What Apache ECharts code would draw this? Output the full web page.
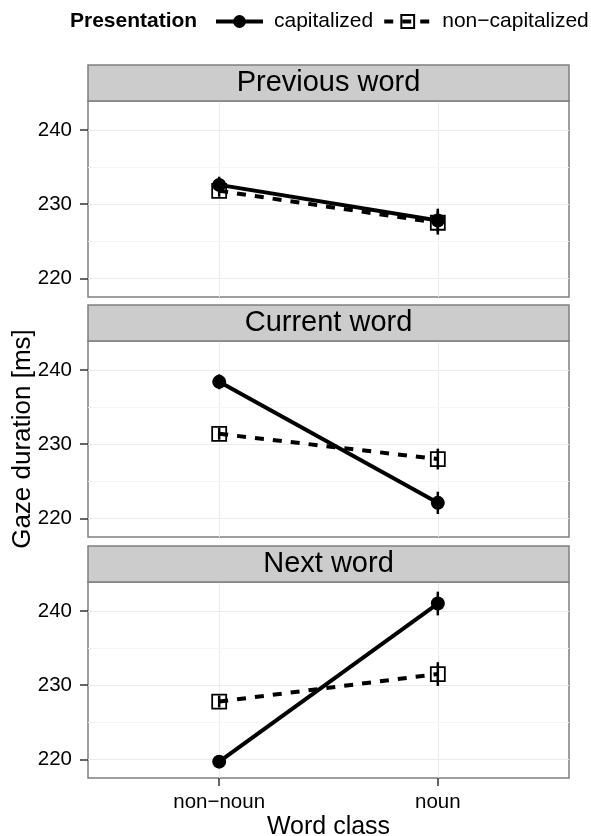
<!DOCTYPE html>
<html><head><meta charset="utf-8">
<script src="https://cdn.jsdelivr.net/npm/echarts@6/dist/echarts.min.js"></script>
<style>html,body{margin:0;padding:0;background:#fff}#c{width:591px;height:836px}</style>
</head><body><div id="c"></div>
<script>
// ---- data ----
const categories = ['non\u2212noun', 'noun'];
const panels = ['Previous word', 'Current word', 'Next word'];
const seriesNames = ['capitalized', 'non\u2212capitalized'];
const yTicks = [220, 230, 240];
const yMinorTicks = [225, 235];
const capPrevious = [232.6, 227.8];
const capCurrent = [238.4, 222.1];
const capNext = [219.7, 241.0];
const nonCapPrevious = [231.8, 227.5];
const nonCapCurrent = [231.4, 228.0];
const nonCapNext = [227.8, 231.5];
const capErrPrevious = [1.1, 1.6];
const capErrCurrent = [1.0, 1.5];
const capErrNext = [0.8, 1.6];
const nonCapErrPrevious = [0.8, 1.6];
const nonCapErrCurrent = [0.8, 1.4];
const nonCapErrNext = [0.8, 1.6];

// ---- layout ----
const FONT = 'Liberation Sans, Arial, Helvetica, sans-serif';
const W = 591, L = 88, R = 22;
const tops = [101, 341, 582], H = 196, stripH = 36;
const capData = [capPrevious, capCurrent, capNext];
const nonCapData = [nonCapPrevious, nonCapCurrent, nonCapNext];
const capErr = [capErrPrevious, capErrCurrent, capErrNext];
const nonCapErr = [nonCapErrPrevious, nonCapErrCurrent, nonCapErrNext];
const catPos = categories.map((c, k) => k + 1);

const grid = tops.map(t => ({left: L, right: R, top: t, height: H, show: true,
  outerBoundsMode: 'none', containLabel: false,
  borderColor: '#7F7F7F', borderWidth: 1.5, backgroundColor: '#fff'}));

const xAxis = tops.map((t, i) => ({
  type: 'value', gridIndex: i, min: 0.4, max: 2.6,
  axisLine: {show: false},
  axisTick: {show: i === 2, customValues: catPos, length: 8, lineStyle: {color: '#333', width: 1.5}},
  axisLabel: {show: i === 2, customValues: catPos, formatter: v => categories[Math.round(v) - 1],
    fontSize: 20.5, color: '#000', margin: 14, fontFamily: FONT},
  splitLine: {show: true, lineStyle: {color: '#EBEBEB', width: 1}},
  name: i === 2 ? 'Word class' : '', nameLocation: 'middle', nameGap: 37, nameMoveOverlap: false,
  nameTextStyle: {fontSize: 25, color: '#000', fontFamily: FONT}
}));

const yAxis = tops.map((t, i) => ({
  type: 'value', gridIndex: i, min: 217.5, max: 243.9,
  axisLine: {show: false},
  axisTick: {show: true, customValues: yTicks, length: 8, lineStyle: {color: '#333', width: 1.5}},
  axisLabel: {customValues: yTicks, fontSize: 20.5, color: '#000', margin: 16, fontFamily: FONT},
  splitLine: {show: true, lineStyle: {color: '#EBEBEB', width: 1}},
  name: i === 1 ? 'Gaze duration [ms]' : '', nameLocation: 'middle', nameGap: 52, nameMoveOverlap: false,
  nameTextStyle: {fontSize: 26, color: '#000', fontFamily: FONT}
}));

const series = [];
tops.forEach((t, i) => {
  series.push({
    type: 'line', xAxisIndex: i, yAxisIndex: i, data: [], z: 1, silent: true,
    markLine: {silent: true, symbol: ['none', 'none'], label: {show: false},
      lineStyle: {color: '#F5F5F5', type: 'solid', width: 1},
      data: yMinorTicks.map(v => ({yAxis: v}))}
  });
  const err = [];
  catPos.forEach((x, k) => {
    err.push([x, capData[i][k] - capErr[i][k], capData[i][k] + capErr[i][k]]);
    err.push([x, nonCapData[i][k] - nonCapErr[i][k], nonCapData[i][k] + nonCapErr[i][k]]);
  });
  series.push({
    type: 'custom', xAxisIndex: i, yAxisIndex: i, data: err, z: 3, silent: true,
    encode: {x: 0, y: [1, 2]},
    renderItem: (params, api) => {
      const p1 = api.coord([api.value(0), api.value(1)]);
      const p2 = api.coord([api.value(0), api.value(2)]);
      return {type: 'line', shape: {x1: p1[0], y1: p1[1], x2: p2[0], y2: p2[1]},
        style: {stroke: '#000', lineWidth: 2.5}};
    }
  });
  series.push({
    type: 'line', name: seriesNames[1], xAxisIndex: i, yAxisIndex: i, z: 4,
    data: catPos.map((x, k) => [x, nonCapData[i][k]]),
    symbol: 'rect', symbolSize: 14,
    itemStyle: {color: 'rgba(255,255,255,0)', borderColor: '#000', borderWidth: 1.8},
    lineStyle: {color: '#000', width: 4, type: [9, 9]}
  });
  series.push({
    type: 'line', name: seriesNames[0], xAxisIndex: i, yAxisIndex: i, z: 5,
    data: catPos.map((x, k) => [x, capData[i][k]]),
    symbol: 'circle', symbolSize: 14,
    itemStyle: {color: '#000'},
    lineStyle: {color: '#000', width: 4}
  });
});

const graphic = [];
panels.forEach((p, i) => {
  graphic.push({type: 'rect', z: 10, shape: {x: L, y: tops[i] - stripH, width: W - L - R, height: stripH},
    style: {fill: '#CCCCCC', stroke: '#7F7F7F', lineWidth: 1.5}});
  graphic.push({type: 'text', z: 11, x: L + (W - L - R) / 2, y: tops[i] - stripH / 2,
    style: {text: p, fontSize: 29, fill: '#000', align: 'center', verticalAlign: 'middle', fontFamily: FONT}});
});

const chart = echarts.init(document.getElementById('c'), null, {renderer: 'canvas'});
chart.setOption({
  animation: false,
  backgroundColor: '#fff',
  textStyle: {fontFamily: FONT},
  title: {text: 'Presentation', left: 70, top: 11, padding: 0,
    textStyle: {fontSize: 21, fontWeight: 'bold', color: '#000', fontFamily: FONT}},
  legend: {data: seriesNames, left: 214, top: 11, padding: 0, itemWidth: 47, itemHeight: 16, itemGap: 9,
    lineStyle: {width: 4, color: '#000'},
    textStyle: {fontSize: 21, color: '#000', padding: [0, 0, 0, 6], fontFamily: FONT}},
  grid, xAxis, yAxis, series, graphic
});
</script></body></html>
